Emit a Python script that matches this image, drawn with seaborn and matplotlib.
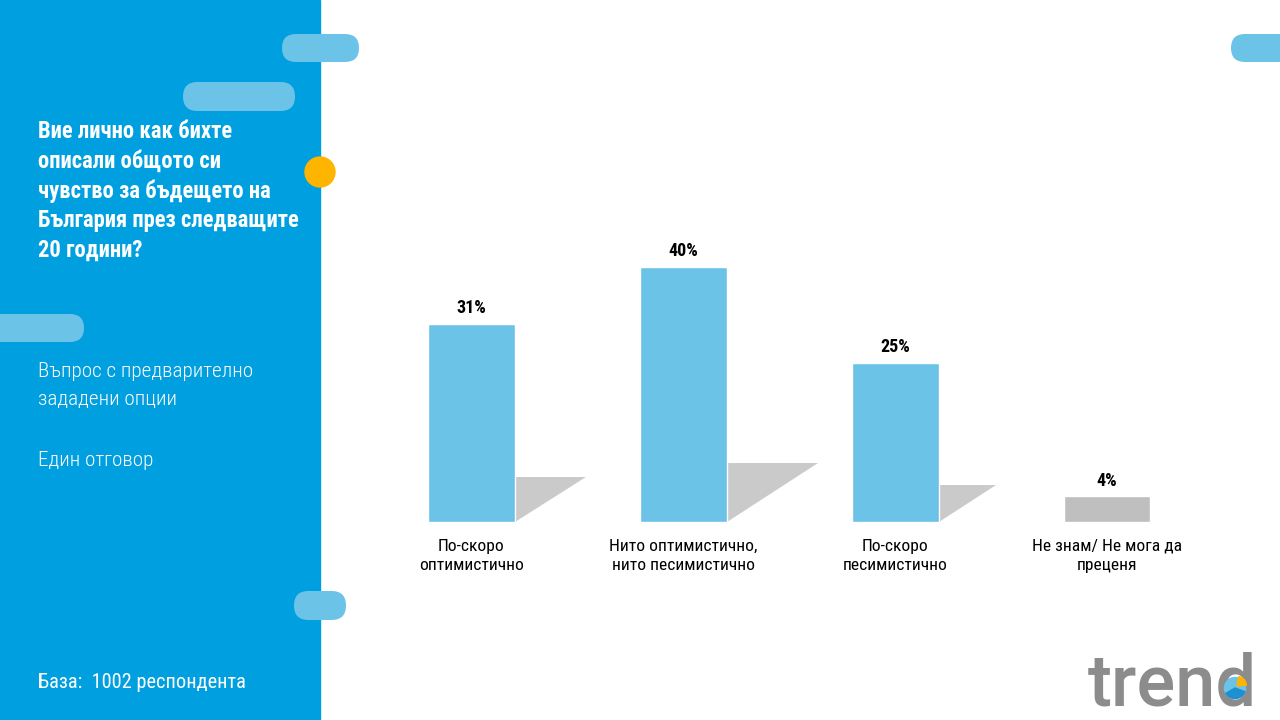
import matplotlib
matplotlib.use("Agg")
import seaborn as sns
from matplotlib import pyplot as plt
from matplotlib import font_manager
from matplotlib.patches import FancyBboxPatch, Circle, Rectangle, Polygon, Wedge

sns.set_theme(style="white")

names = {f.name for f in font_manager.fontManager.ttflist}
FONT = "Roboto Condensed" if "Roboto Condensed" in names else "Roboto"
plt.rcParams["font.family"] = [FONT, "DejaVu Sans"]

# data
categories = ["По-скоро\nоптимистично", "Нито оптимистично,\nнито песимистично",
              "По-скоро\nпесимистично", "Не знам/ Не мога да\nпреценя"]
values = [31, 40, 25, 4]
value_labels = ["31%", "40%", "25%", "4%"]
bar_colors = ["#6CC3E8", "#6CC3E8", "#6CC3E8", "#BFBFBF"]

title = "Вие лично как бихте\nописали общото си\nчувство за бъдещето на\nБългария през следващите\n20 години?"
subtitle = "Въпрос с предварително\nзададени опции"
answer_note = "Един отговор"
base_note = "База:  1002 респондента"

PANEL = "#009FDF"
PILL = "#6CC3E8"

fig = plt.figure(figsize=(12.8, 7.2), dpi=100)

# background decorations in pixel coordinates
bg = fig.add_axes([0, 0, 1, 1])
bg.set_xlim(0, 1280)
bg.set_ylim(720, 0)
bg.axis("off")
bg.add_patch(Rectangle((0, 0), 320, 720, color=PANEL, zorder=0))
for x, y, w, h in [(282, 34, 77, 28), (183, 82, 112, 29), (-20, 314, 104, 28),
                   (294, 591, 52, 29), (1231, 34, 80, 28)]:
    bg.add_patch(FancyBboxPatch((x, y), w, h, boxstyle=f"round,pad=0,rounding_size={h/2}",
                                color=PILL, lw=0, zorder=1))
bg.add_patch(Circle((320, 172), 15, color="#FFB400", zorder=2))

bg.text(38, 120, title, color="white", fontsize=16.3, fontweight="bold",
        va="top", ha="left", linespacing=1.36)
bg.text(38, 362, subtitle, color="white", fontsize=15.3, fontweight="light",
        va="top", ha="left", linespacing=1.52)
bg.text(38, 451, answer_note, color="white", fontsize=15.3, fontweight="light",
        va="top", ha="left")
bg.text(38, 673, base_note, color="white", fontsize=14.7, va="top", ha="left")

# logo
bg.text(1088, 706, "trend", color="#8C8C8C", fontsize=52, family="Roboto",
        fontweight="medium", va="baseline", ha="left")
bg.add_patch(Circle((1235, 688), 10.5, color="#6CC3E8", zorder=3))
bg.add_patch(Wedge((1235, 688), 10.5, 20, 150, color="#1F8FD3", zorder=4))
bg.add_patch(Wedge((1237, 686), 9.5, -80, -5, color="#FFB400", zorder=4))

# bar chart
ax = fig.add_axes([365.5 / 1280, (720 - 522) / 720, 847.5 / 1280, 322 / 720])
ax.patch.set_alpha(0)
sns.barplot(x=categories, y=values, hue=categories, palette=bar_colors,
            legend=False, width=0.41, saturation=1, ax=ax, zorder=3)
ax.set_xlim(-0.5, 3.5)
ax.set_ylim(0, 50.5)

# soft shadows behind the blue bars
for i, v in enumerate(values[:3]):
    h = 0.23 * v
    w = 1.56 * h * (6.375 / 212)
    xr = i + 0.205
    ax.add_patch(Polygon([(xr, 0), (xr, h), (xr + w, h)], closed=True,
                         color="#CACACA", lw=0, zorder=2))

for i, (v, lab) in enumerate(zip(values, value_labels)):
    ax.annotate(lab, (i, v), xytext=(0, 5), textcoords="offset points",
                ha="center", va="bottom", fontsize=13, fontweight="bold", color="black")

ax.tick_params(axis="x", length=0, pad=12, labelsize=12.6, labelcolor="black")
for t in ax.get_xticklabels():
    t.set_linespacing(1.38)
ax.set_yticks([])
ax.set(xlabel=None, ylabel=None)
sns.despine(ax=ax, left=True, bottom=True)

fig.savefig("out.png", dpi=100)
